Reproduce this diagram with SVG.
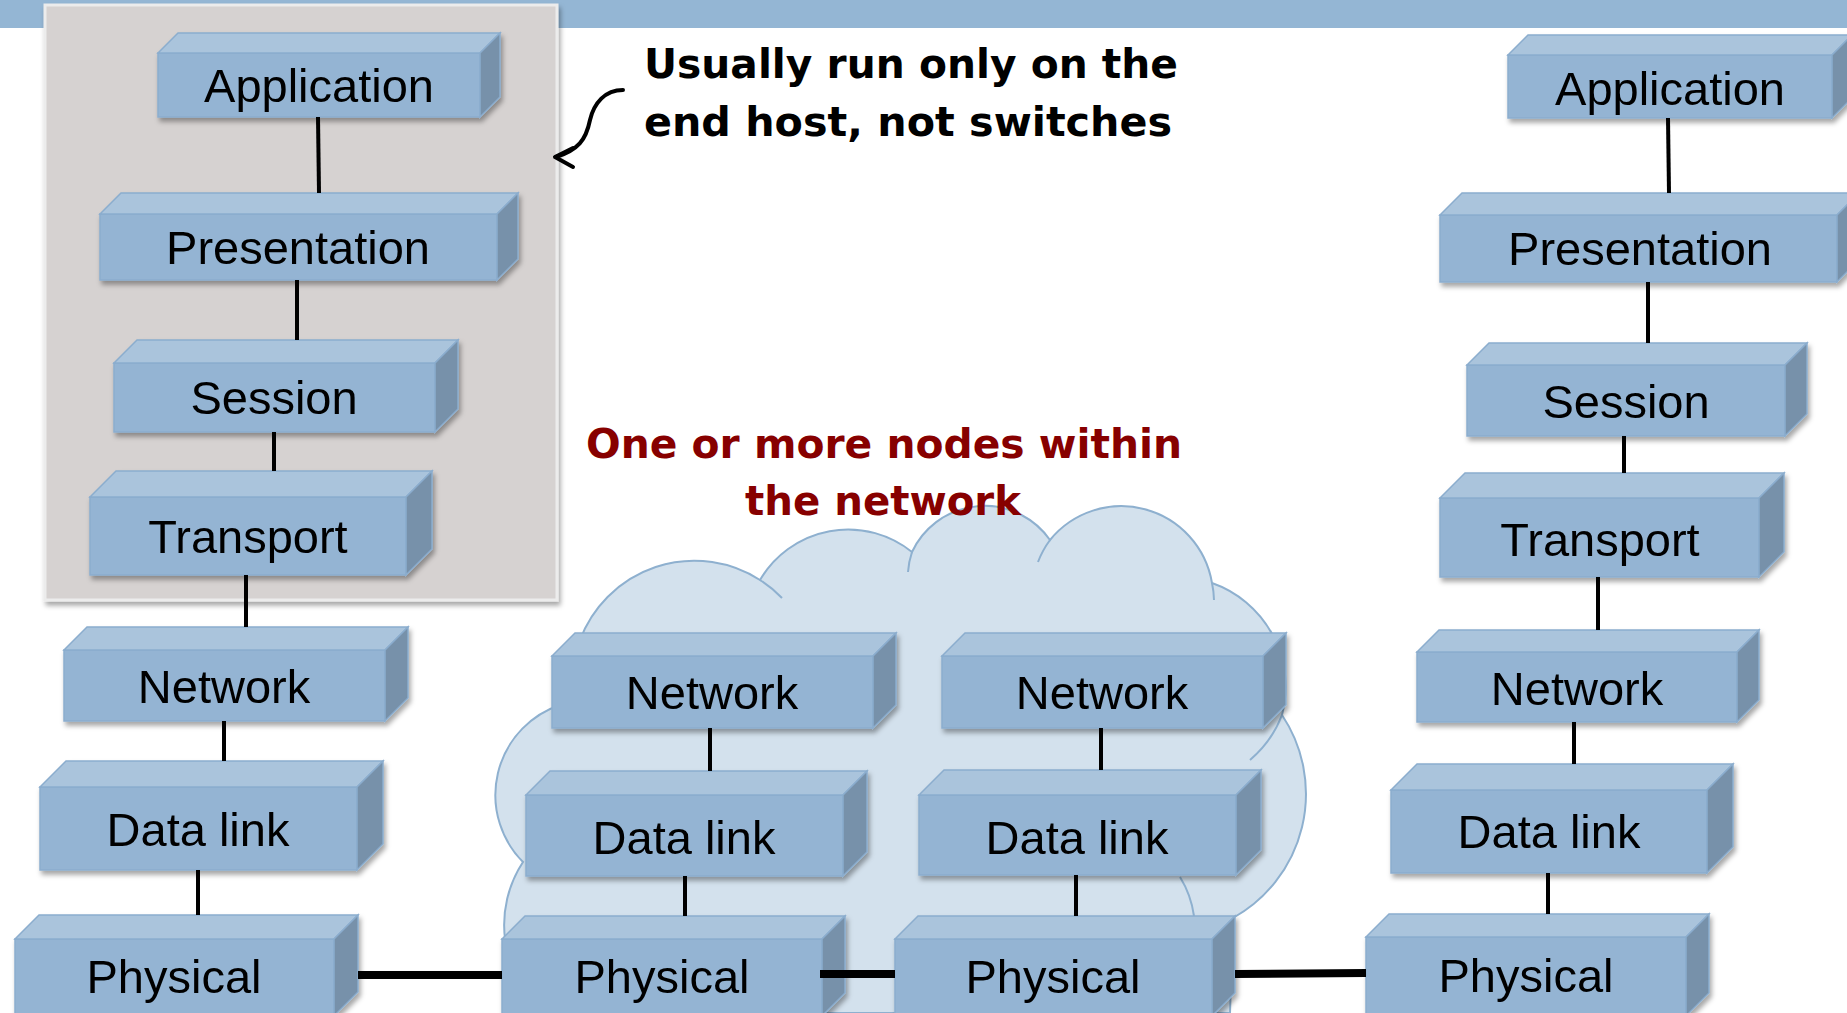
<svg xmlns="http://www.w3.org/2000/svg" width="1847" height="1013" viewBox="0 0 1847 1013">
<defs>
<style>
.front{fill:#94B4D3;stroke:#8BADCE;stroke-width:1.5}
.top{fill:#AAC4DC;stroke:#8BADCE;stroke-width:1.5}
.side{fill:#7791AA;stroke:#8BADCE;stroke-width:1.5}
.lbl{font-family:"Liberation Sans",Arial,sans-serif;font-size:47px;fill:#000;text-anchor:middle}
.vc{stroke:#000;stroke-width:4;fill:none}
.hc{stroke:#000;stroke-width:8;fill:none}
.note{font-family:"Comic Sans MS","DejaVu Sans",sans-serif;font-weight:bold;font-size:40px}
.cloudline{fill:none;stroke:#8EB0CF;stroke-width:2}
</style>
<filter id="sh" x="-10%" y="-10%" width="120%" height="130%">
<feDropShadow dx="2" dy="4" stdDeviation="2.5" flood-color="#000" flood-opacity="0.35"/>
</filter>
</defs>
<rect x="0" y="0" width="1847" height="1013" fill="#FFFFFF"/>
<rect x="0" y="0" width="1847" height="28" fill="#94B6D4"/>
<g id="host-box">
<rect x="45" y="5" width="512" height="595" fill="#D6D2D1" stroke="#ECECEC" stroke-width="3" filter="url(#sh)"/>
</g>
<g id="cloud">
<path d="M 545,1013 A 115 115 0 0 1 523,862 A 95 95 0 0 1 560,705 L 580,640 A 122 122 0 0 1 760,580 A 102 102 0 0 1 912,552 A 80 80 0 0 1 1050,540 A 92 92 0 0 1 1212,583 A 110 110 0 0 1 1282,715 A 142 142 0 0 1 1233,918 L 1230,1013 Z" fill="#D3E1ED" stroke="#8EB0CF" stroke-width="2"/>
<path class="cloudline" d="M 760,580 A 122 122 0 0 1 782,598"/>
<path class="cloudline" d="M 908,572 A 80 80 0 0 1 912,552"/>
<path class="cloudline" d="M 1038,562 A 92 92 0 0 1 1050,540"/>
<path class="cloudline" d="M 1212,583 A 92 92 0 0 1 1214,600"/>
<path class="cloudline" d="M 1282,715 A 110 110 0 0 1 1250,760"/>
<path class="cloudline" d="M 1180,877 A 100 100 0 0 1 1194,916"/>
</g>
<g id="annotation-host">
<text class="note" x="644" y="78" textLength="534" lengthAdjust="spacingAndGlyphs" fill="#000">Usually run only on the</text>
<text class="note" x="644" y="136" textLength="528" lengthAdjust="spacingAndGlyphs" fill="#000">end host, not switches</text>
<path d="M 623,90 C 605,90 594,103 590,120 C 586,140 578,150 556,157" fill="none" stroke="#000" stroke-width="4" stroke-linecap="round"/>
<path d="M 573,148 L 555,157 L 573,167" fill="none" stroke="#000" stroke-width="4" stroke-linecap="round" stroke-linejoin="round"/>
</g>
<g id="annotation-network">
<text class="note" x="586" y="458" textLength="596" lengthAdjust="spacingAndGlyphs" fill="#870000">One or more nodes within</text>
<text class="note" x="745" y="515" textLength="276" lengthAdjust="spacingAndGlyphs" fill="#870000">the network</text>
</g>

<g id="app-left" filter="url(#sh)"><rect class="front" x="158" y="53" width="322" height="64"/><polygon class="top" points="158,53 178,33 500,33 480,53"/><polygon class="side" points="480,53 500,33 500,97 480,117"/><text class="lbl" x="319" y="102">Application</text></g>
<g id="pres-left" filter="url(#sh)"><rect class="front" x="100" y="214" width="397" height="66"/><polygon class="top" points="100,214 121,193 518,193 497,214"/><polygon class="side" points="497,214 518,193 518,259 497,280"/><text class="lbl" x="298" y="264">Presentation</text></g>
<g id="sess-left" filter="url(#sh)"><rect class="front" x="114" y="363" width="321" height="69"/><polygon class="top" points="114,363 137,340 458,340 435,363"/><polygon class="side" points="435,363 458,340 458,409 435,432"/><text class="lbl" x="274" y="414">Session</text></g>
<g id="trans-left" filter="url(#sh)"><rect class="front" x="90" y="497" width="316" height="78"/><polygon class="top" points="90,497 116,471 432,471 406,497"/><polygon class="side" points="406,497 432,471 432,549 406,575"/><text class="lbl" x="248" y="553">Transport</text></g>
<g id="net-left" filter="url(#sh)"><rect class="front" x="64" y="650" width="321" height="71"/><polygon class="top" points="64,650 87,627 408,627 385,650"/><polygon class="side" points="385,650 408,627 408,698 385,721"/><text class="lbl" x="224" y="703">Network</text></g>
<g id="dl-left" filter="url(#sh)"><rect class="front" x="40" y="787" width="317" height="83"/><polygon class="top" points="40,787 66,761 383,761 357,787"/><polygon class="side" points="357,787 383,761 383,844 357,870"/><text class="lbl" x="198" y="846">Data link</text></g>
<g id="phy-left" filter="url(#sh)"><rect class="front" x="15" y="939" width="319" height="77"/><polygon class="top" points="15,939 39,915 358,915 334,939"/><polygon class="side" points="334,939 358,915 358,992 334,1016"/><text class="lbl" x="174" y="993">Physical</text></g>

<g id="net-mid1" filter="url(#sh)"><rect class="front" x="552" y="656" width="321" height="72"/><polygon class="top" points="552,656 575,633 896,633 873,656"/><polygon class="side" points="873,656 896,633 896,705 873,728"/><text class="lbl" x="712" y="709">Network</text></g>
<g id="dl-mid1" filter="url(#sh)"><rect class="front" x="526" y="795" width="317" height="81"/><polygon class="top" points="526,795 550,771 867,771 843,795"/><polygon class="side" points="843,795 867,771 867,852 843,876"/><text class="lbl" x="684" y="854">Data link</text></g>
<g id="phy-mid1" filter="url(#sh)"><rect class="front" x="502" y="939" width="320" height="77"/><polygon class="top" points="502,939 525,916 845,916 822,939"/><polygon class="side" points="822,939 845,916 845,993 822,1016"/><text class="lbl" x="662" y="993">Physical</text></g>

<g id="net-mid2" filter="url(#sh)"><rect class="front" x="942" y="656" width="321" height="72"/><polygon class="top" points="942,656 965,633 1286,633 1263,656"/><polygon class="side" points="1263,656 1286,633 1286,705 1263,728"/><text class="lbl" x="1102" y="709">Network</text></g>
<g id="dl-mid2" filter="url(#sh)"><rect class="front" x="919" y="795" width="317" height="80"/><polygon class="top" points="919,795 944,770 1261,770 1236,795"/><polygon class="side" points="1236,795 1261,770 1261,850 1236,875"/><text class="lbl" x="1077" y="854">Data link</text></g>
<g id="phy-mid2" filter="url(#sh)"><rect class="front" x="895" y="939" width="317" height="77"/><polygon class="top" points="895,939 918,916 1235,916 1212,939"/><polygon class="side" points="1212,939 1235,916 1235,993 1212,1016"/><text class="lbl" x="1053" y="993">Physical</text></g>

<g id="app-right" filter="url(#sh)"><rect class="front" x="1508" y="55" width="324" height="63"/><polygon class="top" points="1508,55 1528,35 1852,35 1832,55"/><polygon class="side" points="1832,55 1852,35 1852,98 1832,118"/><text class="lbl" x="1670" y="105">Application</text></g>
<g id="pres-right" filter="url(#sh)"><rect class="front" x="1440" y="215" width="397" height="67"/><polygon class="top" points="1440,215 1462,193 1859,193 1837,215"/><polygon class="side" points="1837,215 1859,193 1859,260 1837,282"/><text class="lbl" x="1640" y="265">Presentation</text></g>
<g id="sess-right" filter="url(#sh)"><rect class="front" x="1467" y="365" width="318" height="71"/><polygon class="top" points="1467,365 1489,343 1807,343 1785,365"/><polygon class="side" points="1785,365 1807,343 1807,414 1785,436"/><text class="lbl" x="1626" y="418">Session</text></g>
<g id="trans-right" filter="url(#sh)"><rect class="front" x="1440" y="498" width="319" height="79"/><polygon class="top" points="1440,498 1465,473 1784,473 1759,498"/><polygon class="side" points="1759,498 1784,473 1784,552 1759,577"/><text class="lbl" x="1600" y="556">Transport</text></g>
<g id="net-right" filter="url(#sh)"><rect class="front" x="1417" y="652" width="320" height="70"/><polygon class="top" points="1417,652 1439,630 1759,630 1737,652"/><polygon class="side" points="1737,652 1759,630 1759,700 1737,722"/><text class="lbl" x="1577" y="705">Network</text></g>
<g id="dl-right" filter="url(#sh)"><rect class="front" x="1391" y="790" width="316" height="83"/><polygon class="top" points="1391,790 1417,764 1733,764 1707,790"/><polygon class="side" points="1707,790 1733,764 1733,847 1707,873"/><text class="lbl" x="1549" y="848">Data link</text></g>
<g id="phy-right" filter="url(#sh)"><rect class="front" x="1366" y="937" width="320" height="79"/><polygon class="top" points="1366,937 1389,914 1709,914 1686,937"/><polygon class="side" points="1686,937 1709,914 1709,993 1686,1016"/><text class="lbl" x="1526" y="992">Physical</text></g>

<g id="connectors">
<line class="vc" x1="318" y1="117" x2="319" y2="193"/>
<line class="vc" x1="297" y1="280" x2="297" y2="340"/>
<line class="vc" x1="274" y1="432" x2="274" y2="471"/>
<line class="vc" x1="246" y1="575" x2="246" y2="627"/>
<line class="vc" x1="224" y1="721" x2="224" y2="761"/>
<line class="vc" x1="198" y1="870" x2="198" y2="915"/>
<line class="vc" x1="710" y1="728" x2="710" y2="771"/>
<line class="vc" x1="685" y1="876" x2="685" y2="916"/>
<line class="vc" x1="1101" y1="728" x2="1101" y2="770"/>
<line class="vc" x1="1076" y1="875" x2="1076" y2="916"/>
<line class="vc" x1="1668" y1="118" x2="1669" y2="193"/>
<line class="vc" x1="1648" y1="282" x2="1648" y2="343"/>
<line class="vc" x1="1624" y1="436" x2="1624" y2="473"/>
<line class="vc" x1="1598" y1="577" x2="1598" y2="630"/>
<line class="vc" x1="1574" y1="722" x2="1574" y2="764"/>
<line class="vc" x1="1548" y1="873" x2="1548" y2="914"/>
<line class="hc" x1="358" y1="975" x2="502" y2="975"/>
<line class="hc" x1="820" y1="974" x2="895" y2="974"/>
<line class="hc" x1="1235" y1="974" x2="1366" y2="973"/>
</g>
</svg>
